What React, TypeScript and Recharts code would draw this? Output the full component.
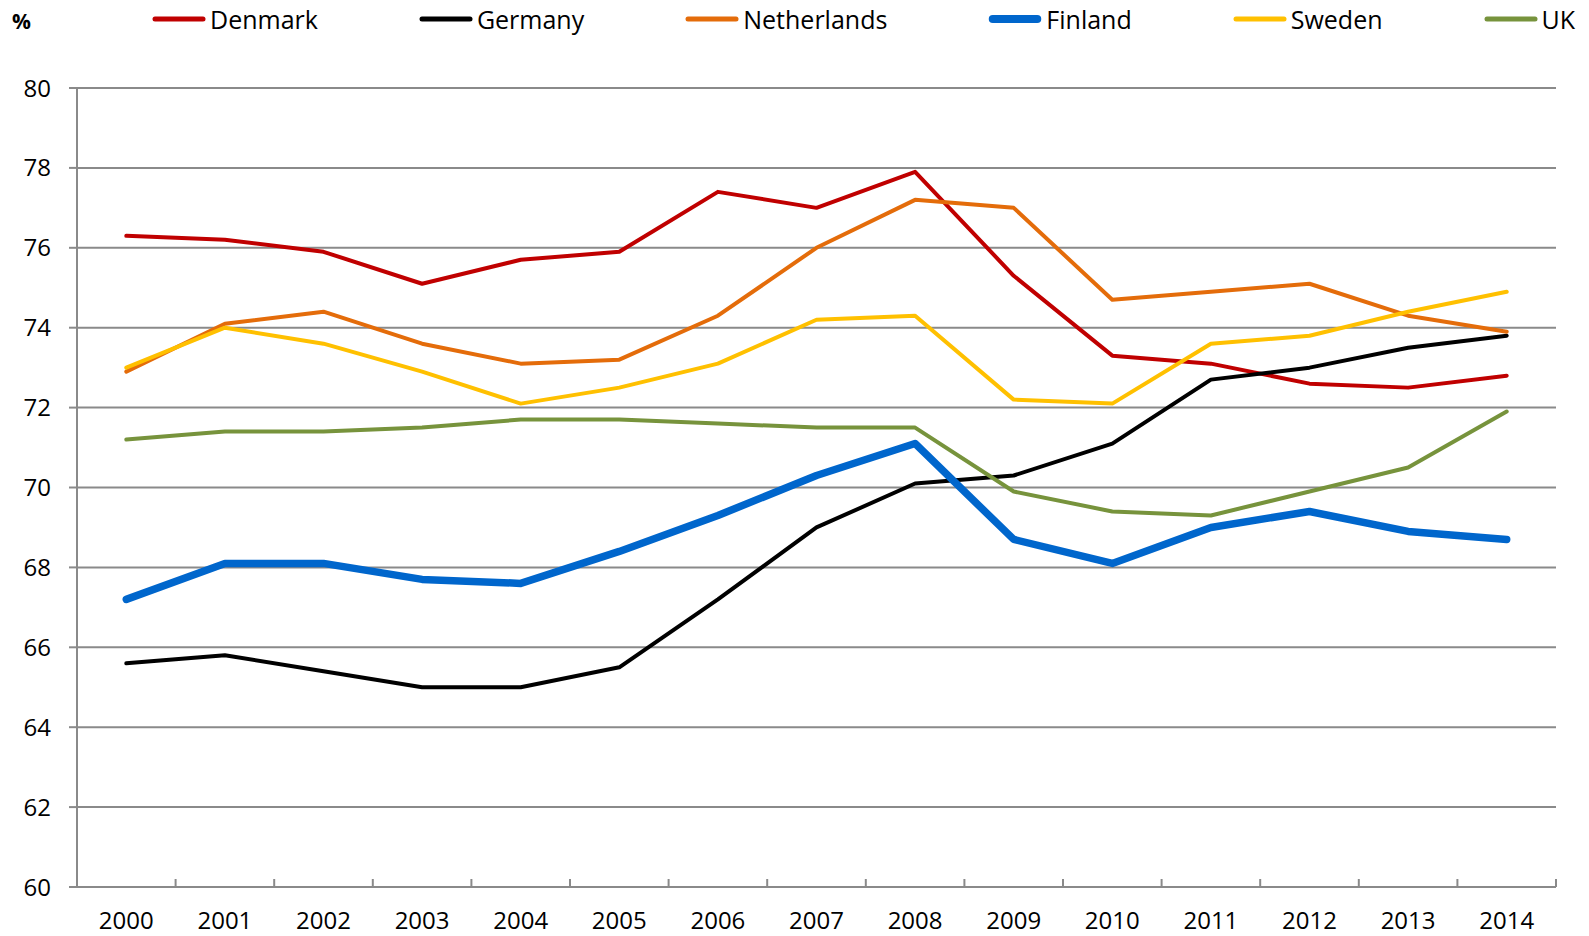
import React from 'react';
import { LineChart, Line, XAxis, YAxis, CartesianGrid, Legend, ReferenceLine } from 'recharts';

const years = ['2000','2001','2002','2003','2004','2005','2006','2007','2008','2009','2010','2011','2012','2013','2014'];
const denmark = [76.3, 76.2, 75.9, 75.1, 75.7, 75.9, 77.4, 77.0, 77.9, 75.3, 73.3, 73.1, 72.6, 72.5, 72.8];
const germany = [65.6, 65.8, 65.4, 65.0, 65.0, 65.5, 67.2, 69.0, 70.1, 70.3, 71.1, 72.7, 73.0, 73.5, 73.8];
const netherlands = [72.9, 74.1, 74.4, 73.6, 73.1, 73.2, 74.3, 76.0, 77.2, 77.0, 74.7, 74.9, 75.1, 74.3, 73.9];
const finland = [67.2, 68.1, 68.1, 67.7, 67.6, 68.4, 69.3, 70.3, 71.1, 68.7, 68.1, 69.0, 69.4, 68.9, 68.7];
const sweden = [73.0, 74.0, 73.6, 72.9, 72.1, 72.5, 73.1, 74.2, 74.3, 72.2, 72.1, 73.6, 73.8, 74.4, 74.9];
const uk = [71.2, 71.4, 71.4, 71.5, 71.7, 71.7, 71.6, 71.5, 71.5, 69.9, 69.4, 69.3, 69.9, 70.5, 71.9];
const yTicks = [60, 62, 64, 66, 68, 70, 72, 74, 76, 78, 80];
const Y_MIN = 60;
const Y_MAX = 80;
const TICK_MARK_LEN = 0.2; // in y units (axis tick marks between categories)

const seriesList = [
  { key: 'Denmark', values: denmark, color: '#C00000', width: 4 },
  { key: 'Germany', values: germany, color: '#000000', width: 4 },
  { key: 'Netherlands', values: netherlands, color: '#E46C0A', width: 4 },
  { key: 'Finland', values: finland, color: '#0066CC', width: 7.5 },
  { key: 'Sweden', values: sweden, color: '#FFC000', width: 4 },
  { key: 'UK', values: uk, color: '#77933C', width: 4 },
];

const data = years.map((y, i) => {
  const row: Record<string, number | string> = { idx: i, year: y };
  seriesList.forEach((s) => { row[s.key] = s.values[i]; });
  return row;
});

const bandEdges = years.map((_, i) => i + 0.5).slice(0, years.length - 1).concat([years.length - 0.5]);
const labelTicks = years.map((_, i) => i);

const FONT = '"Open Sans", sans-serif';
const GRID = '#8A8A8A';

const renderLegend = () => (
  <div style={{ position: 'relative', height: 40, fontFamily: FONT, fontSize: 25, color: '#000' }}>
    <span style={{ position: 'absolute', left: 12, top: 7, fontWeight: 'bold', fontSize: 21 }}>%</span>
    <div style={{ position: 'absolute', left: 152, top: 2, display: 'flex', alignItems: 'center', gap: 101, whiteSpace: 'nowrap' }}>
      {seriesList.map((s) => (
        <div key={s.key} style={{ display: 'flex', alignItems: 'center' }}>
          <svg width={54} height={12} style={{ display: 'block' }}>
            <line x1={s.width / 2 + 1} y1={6} x2={54 - s.width / 2 - 1} y2={6} stroke={s.color} strokeWidth={s.width === 4 ? 5 : 8} strokeLinecap="round" />
          </svg>
          <span style={{ marginLeft: 4, lineHeight: '34px' }}>{s.key}</span>
        </div>
      ))}
    </div>
  </div>
);

export default function App() {
  return (
    <div style={{ position: 'absolute', left: 0, top: 0, width: 1589, height: 936, background: '#fff' }}>
      <LineChart width={1589} height={936} data={data} margin={{ top: 48, right: 33, bottom: 4, left: 0 }}>
        <Legend verticalAlign="top" align="left" height={40} content={renderLegend} wrapperStyle={{ top: 0, left: 0, width: 1589 }} />
        <CartesianGrid horizontal vertical={false} stroke={GRID} strokeWidth={2} />
        <XAxis
          dataKey="idx"
          type="number"
          domain={[-0.5, years.length - 0.5]}
          ticks={labelTicks}
          tickFormatter={(v: number) => years[v]}
          interval={0}
          height={45}
          tickLine={false}
          tickSize={0}
          tickMargin={25}
          axisLine={{ stroke: GRID, strokeWidth: 2 }}
          tick={{ fill: '#000', fontSize: 24, fontFamily: FONT }}
          allowDataOverflow
        />
        <YAxis
          domain={[Y_MIN, Y_MAX]}
          ticks={yTicks}
          interval={0}
          width={77}
          tickSize={8}
          tickMargin={18}
          axisLine={{ stroke: GRID, strokeWidth: 2 }}
          tickLine={{ stroke: GRID, strokeWidth: 2 }}
          tick={{ fill: '#000', fontSize: 24, fontFamily: FONT }}
        />
        {bandEdges.map((e) => (
          <ReferenceLine
            key={`edge-${e}`}
            segment={[{ x: e, y: Y_MIN }, { x: e, y: Y_MIN + TICK_MARK_LEN }]}
            stroke={GRID}
            strokeWidth={2}
            ifOverflow="visible"
          />
        ))}
        {seriesList.map((s) => (
          <Line
            key={s.key}
            dataKey={s.key}
            stroke={s.color}
            strokeWidth={s.width}
            strokeLinecap="round"
            strokeLinejoin="round"
            dot={false}
            activeDot={false}
            isAnimationActive={false}
          />
        ))}
      </LineChart>
    </div>
  );
}
